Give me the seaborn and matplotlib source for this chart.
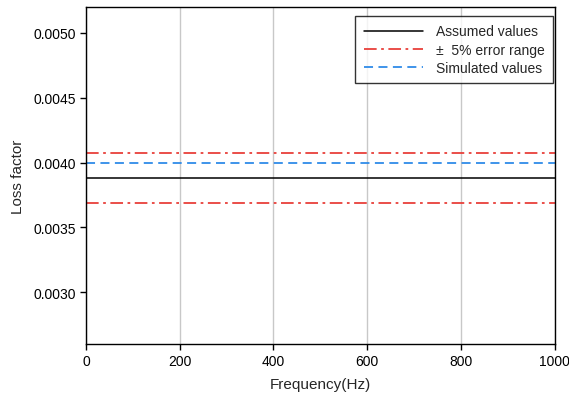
import matplotlib
matplotlib.use("Agg")
import matplotlib.pyplot as plt
import seaborn as sns
import pandas as pd

freq = [0, 200, 400, 600, 800, 1000]
assumed = [0.00388] * 6
upper = [0.004074] * 6
lower = [0.003686] * 6
simulated = [0.004] * 6

sns.set_style("white")
plt.rcParams['font.family'] = ['Liberation Sans', 'DejaVu Sans']

df = pd.DataFrame({'Frequency': freq, 'Assumed': assumed, 'Upper': upper,
                   'Lower': lower, 'Simulated': simulated})

fig = plt.figure(figsize=(5.69, 4.02), dpi=100)
ax = fig.add_axes([0.151, 0.142, 0.824, 0.838])

red = '#e8403a'
blue = '#2f8be8'
sns.lineplot(data=df, x='Frequency', y='Assumed', ax=ax, color='black', lw=1.1,
             label='Assumed values')
sns.lineplot(data=df, x='Frequency', y='Upper', ax=ax, color=red, lw=1.3,
             label='\u00b1  5% error range')
ax.lines[-1].set_dashes([7, 2.5, 1.5, 2.5])
sns.lineplot(data=df, x='Frequency', y='Lower', ax=ax, color=red, lw=1.3)
ax.lines[-1].set_dashes([7, 2.5, 1.5, 2.5])
sns.lineplot(data=df, x='Frequency', y='Simulated', ax=ax, color=blue, lw=1.3,
             label='Simulated values')
ax.lines[-1].set_dashes([5, 3])

ax.set_xlim(0, 1000)
ax.set_ylim(0.0026, 0.0052)
ax.set_xticks([0, 200, 400, 600, 800, 1000])
ax.set_yticks([0.0030, 0.0035, 0.0040, 0.0045, 0.0050])
ax.set_yticklabels(['0.0030', '0.0035', '0.0040', '0.0045', '0.0050'])
ax.xaxis.grid(True, color='#c8c8c8', lw=1.0)
ax.yaxis.grid(False)
for s in ax.spines.values():
    s.set_color('black')
    s.set_linewidth(1.0)
ax.tick_params(axis='both', direction='out', length=4, width=1, labelsize=10,
               bottom=True, left=True, colors='black')
ax.set_xlabel('Frequency(Hz)', fontsize=11, labelpad=6)
ax.set_ylabel('Loss factor', fontsize=11, labelpad=6)

h, l = ax.get_legend_handles_labels()
leg = ax.legend(h, l, loc='upper right', bbox_to_anchor=(0.996, 0.973), fontsize=10,
                frameon=True, fancybox=False, edgecolor='black', handlelength=4.3,
                borderaxespad=0.0, labelspacing=0.3, borderpad=0.6, handletextpad=0.9)
leg.get_frame().set_linewidth(1.0)

fig.savefig('out.png', dpi=100)
